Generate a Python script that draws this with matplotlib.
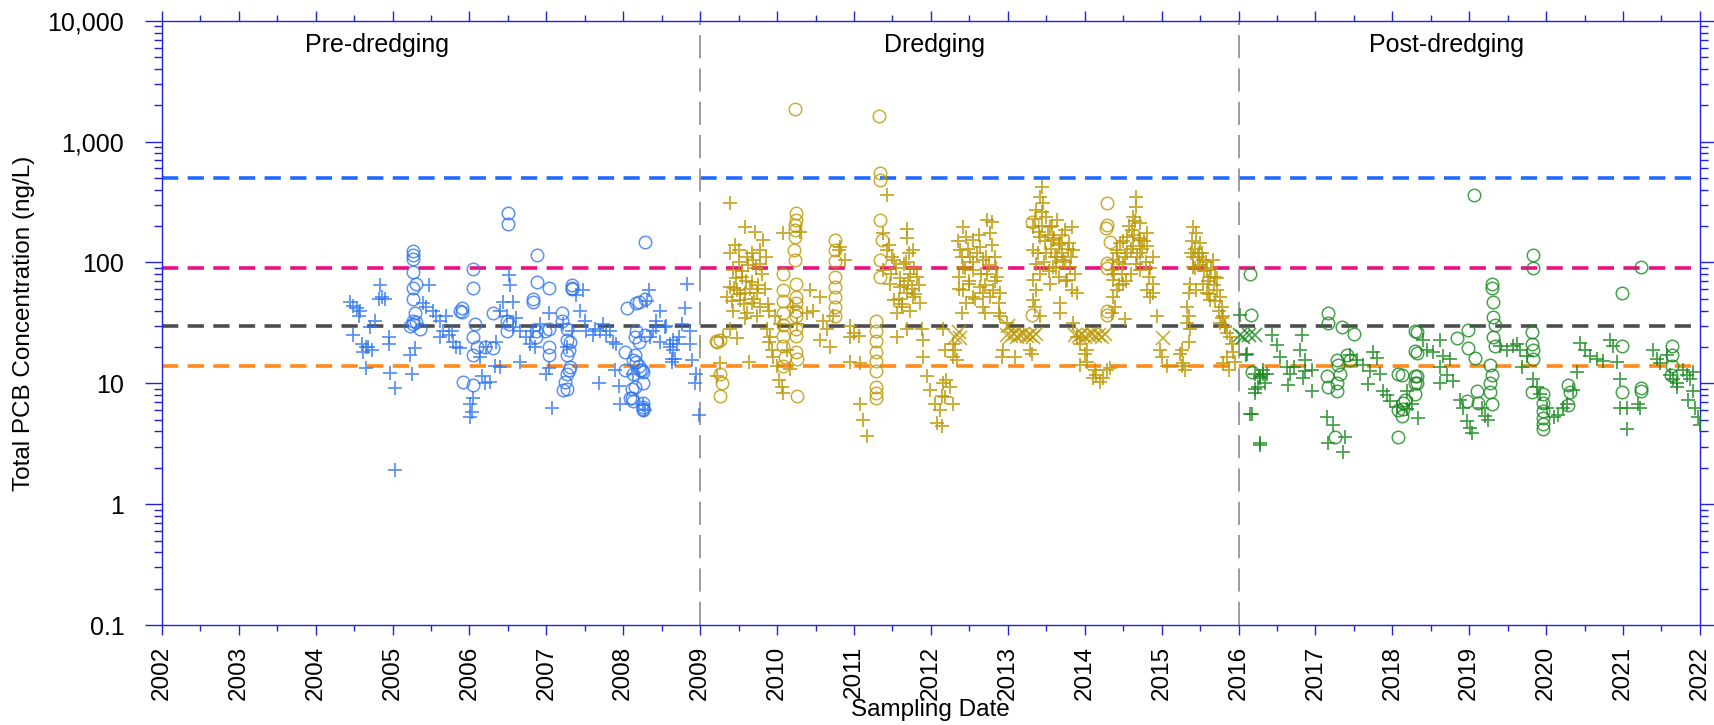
import numpy as np
import matplotlib.pyplot as plt
from matplotlib.ticker import FixedLocator, FixedFormatter, LogLocator, NullFormatter, MultipleLocator

plt.rcParams['font.family'] = ['Liberation Sans', 'DejaVu Sans']
font = 17.5

# ---------------- data (decimal year, ng/L) ----------------
# pre-dredging, '+' samples
pre_plus_yr = [2004.45, 2004.49, 2004.54, 2004.58, 2004.56, 2004.84, 2004.86, 2004.82, 2004.90,
               2004.77, 2004.71, 2004.49, 2004.60, 2004.66, 2004.73, 2004.95, 2004.95, 2004.66, 2004.97,
               2005.03, 2005.25, 2005.23, 2005.29, 2005.03, 2005.47, 2005.40, 2005.44, 2005.53, 2005.57,
               2005.62, 2005.66, 2005.73, 2005.79, 2005.83, 2005.88, 2005.62, 2005.70, 2005.77, 2006.01,
               2006.03, 2006.01, 2006.05, 2006.16, 2006.20, 2006.27, 2006.14, 2006.22, 2006.35, 2006.40,
               2006.33, 2006.51, 2006.53, 2006.44, 2006.57, 2006.40, 2006.49, 2006.61, 2006.66, 2006.74,
               2006.79, 2006.83, 2006.92, 2006.66, 2006.57, 2006.85, 2007.03, 2007.00, 2007.03, 2007.07,
               2007.39, 2007.48, 2007.44, 2007.50, 2007.52, 2007.33, 2007.27, 2007.22, 2007.61, 2007.70,
               2007.74, 2007.78, 2007.87, 2007.91, 2007.68, 2007.89, 2007.94, 2007.96, 2007.63, 2007.83,
               2008.33, 2008.31, 2008.26, 2008.28, 2008.39, 2008.48, 2008.43, 2008.54, 2008.61, 2008.65,
               2008.67, 2008.63, 2008.48, 2008.13, 2008.83, 2008.80, 2008.43, 2008.56, 2008.76, 2008.87,
               2008.65, 2008.72, 2008.61, 2008.70, 2008.87, 2008.89, 2008.95, 2008.93, 2008.98, 2008.35,
               2008.63, 2004.62, 2004.68]
pre_plus_val = [47, 44, 42, 40, 36, 65, 52, 50, 50,
                33, 29, 25, 21, 20, 19, 24, 21, 13.3, 12.1,
                9.1, 12, 17, 19.5, 1.92, 65, 46, 43, 40, 36,
                33, 27, 25, 22, 20, 19.5, 24, 36, 27, 6.8,
                5.8, 5.3, 7.5, 11.4, 10, 10.3, 16.6, 20, 22, 13.7,
                14, 79, 65, 47, 47, 40, 36, 35, 27, 24,
                21, 27, 31, 15, 29, 20, 38, 12, 13.3, 6.2,
                54, 59, 40, 33, 27, 27, 20, 31, 25, 27,
                31, 25, 22, 21, 10, 13, 9.5, 6.8, 28, 27,
                59, 48, 6.6, 6, 27, 40, 33, 29, 21, 19,
                16, 15, 22, 12, 67, 42, 29, 30, 31, 27,
                23, 24, 20, 21, 21, 15.6, 12, 10, 5.5, 24,
                16, 18, 20]

# pre-dredging, 'o' samples
pre_circ_yr = [2005.27, 2005.27, 2005.27, 2005.27, 2005.31, 2005.27, 2005.27, 2005.29, 2005.27, 2005.27,
               2005.31, 2005.36, 2005.23, 2006.05, 2006.05, 2005.90, 2005.88, 2005.90, 2005.92, 2006.05,
               2006.07, 2006.05, 2006.10, 2006.05, 2006.31, 2006.20, 2006.50, 2006.50, 2006.88, 2006.88,
               2007.03, 2006.83, 2006.83, 2006.31, 2006.49, 2006.49, 2006.51, 2006.87, 2006.87, 2007.03,
               2007.03, 2007.03, 2006.98, 2007.33, 2007.33, 2007.33, 2007.20, 2007.20, 2007.27, 2007.27,
               2007.31, 2007.29, 2007.27, 2007.31, 2007.29, 2007.27, 2007.24, 2007.22, 2007.27, 2008.05,
               2008.20, 2008.28, 2008.28, 2008.20, 2008.15, 2008.17, 2008.22, 2008.13, 2008.26, 2008.15,
               2008.11, 2008.13, 2008.26, 2008.26, 2008.02, 2008.28, 2008.17, 2008.15, 2008.17, 2008.02,
               2008.13, 2008.20, 2008.24, 2008.26, 2008.11, 2008.09, 2008.26, 2008.26]
pre_circ_val = [115, 125, 106, 84, 67, 61, 50, 38, 33, 31,
                32, 28, 30, 88, 61, 42, 40, 39, 10.3, 9.7,
                31, 24, 20, 17, 19.5, 20, 259, 208, 115, 69,
                61, 50, 47, 38, 33, 27, 31, 27, 24, 28,
                20, 17, 27, 65, 60, 62, 38, 33, 28, 23,
                22, 19, 17, 13.7, 13, 12, 10.3, 8.8, 9, 42,
                47, 50, 25, 22, 17, 15, 13, 12, 12.4, 9.3,
                7.6, 7.2, 6.9, 6.1, 18, 149, 46, 24, 27, 13,
                15.5, 14, 12.8, 10, 9, 7.5, 6.4, 6]

# dredging, '+' samples
dr_plus_yr = [2009.39, 2009.58, 2009.71, 2009.82, 2009.78, 2009.50, 2009.39, 2009.61, 2009.69, 2009.78,
              2009.43, 2009.54, 2009.67, 2009.39, 2009.48, 2009.58, 2009.74, 2009.35, 2009.52, 2009.67,
              2009.78, 2009.43, 2009.61, 2009.74, 2009.39, 2009.30, 2009.48, 2009.26, 2009.22, 2009.63,
              2009.87, 2009.91, 2009.89, 2009.93, 2009.95, 2010.00, 2010.02, 2010.06, 2010.08, 2010.04,
              2009.97, 2009.89, 2010.08, 2010.30, 2010.21, 2010.26, 2010.13, 2010.17, 2010.43, 2010.56,
              2010.47, 2010.60, 2010.65, 2010.39, 2010.56, 2010.69, 2010.80, 2010.88, 2010.82, 2010.73,
              2010.95, 2011.00, 2010.95, 2011.06, 2011.08, 2010.95, 2011.08, 2011.12, 2011.17, 2011.43,
              2011.69, 2011.38, 2011.69, 2011.77, 2011.43, 2011.52, 2011.38, 2011.65, 2011.73, 2011.82,
              2011.47, 2011.60, 2011.69, 2011.77, 2011.86, 2011.52, 2011.62, 2011.56, 2011.73, 2011.88,
              2011.90, 2011.90, 2011.95, 2011.99, 2012.05, 2012.12, 2012.08, 2012.16, 2012.14, 2011.56,
              2011.69, 2012.16, 2012.20, 2012.25, 2012.18, 2012.29, 2012.14, 2012.18, 2012.29, 2012.31,
              2012.34, 2012.29, 2012.42, 2012.73, 2012.79, 2012.46, 2012.55, 2012.64, 2012.77, 2012.38,
              2012.51, 2012.68, 2012.83, 2012.42, 2012.55, 2012.73, 2012.86, 2012.36, 2012.49, 2012.64,
              2012.81, 2012.90, 2012.42, 2012.55, 2012.77, 2012.88, 2012.46, 2012.68, 2012.40, 2012.68,
              2012.70, 2012.88, 2012.90, 2012.99, 2012.92, 2013.09, 2012.94, 2013.29, 2013.31, 2013.44,
              2013.42, 2013.46, 2013.37, 2013.50, 2013.33, 2013.55, 2013.64, 2013.74, 2013.83, 2013.42,
              2013.59, 2013.68, 2013.79, 2013.85, 2013.33, 2013.50, 2013.64, 2013.72, 2013.37, 2013.59,
              2013.81, 2013.42, 2013.66, 2013.77, 2013.83, 2013.90, 2013.33, 2013.55, 2013.37, 2013.33,
              2013.35, 2013.68, 2013.68, 2013.42, 2013.85, 2013.90, 2013.94, 2014.00, 2014.03, 2014.13,
              2014.15, 2014.20, 2014.11, 2014.24, 2014.29, 2014.33, 2013.94, 2014.03, 2014.67, 2014.67,
              2014.63, 2014.72, 2014.61, 2014.81, 2014.55, 2014.72, 2014.46, 2014.63, 2014.81, 2014.42,
              2014.55, 2014.72, 2014.89, 2014.37, 2014.50, 2014.67, 2014.35, 2014.48, 2014.72, 2014.83,
              2014.37, 2014.50, 2014.42, 2014.81, 2014.89, 2014.37, 2014.89, 2014.40, 2014.35, 2014.85,
              2014.94, 2014.52, 2014.98, 2015.00, 2015.07, 2015.28, 2015.24, 2015.26, 2015.30, 2015.41,
              2015.45, 2015.50, 2015.48, 2015.41, 2015.54, 2015.59, 2015.63, 2015.41, 2015.37, 2015.45,
              2015.54, 2015.59, 2015.67, 2015.69, 2015.72, 2015.76, 2015.63, 2015.78, 2015.80, 2015.76,
              2015.82, 2015.85, 2015.89, 2015.91, 2015.85, 2015.80, 2015.87, 2015.35, 2015.33, 2015.35,
              2015.33, 2015.37, 2015.35, 2015.26, 2015.93, 2015.95,
              2009.45, 2009.50, 2009.55, 2009.60, 2009.65, 2009.70, 2009.75, 2009.80, 2009.85, 2009.47,
              2009.52, 2009.57, 2009.62, 2009.68, 2009.73, 2009.41, 2009.44, 2009.58, 2009.84, 2009.88,
              2011.45, 2011.50, 2011.55, 2011.60, 2011.65, 2011.70, 2011.75, 2011.80, 2011.48, 2011.58,
              2011.63, 2011.68, 2011.72, 2011.78, 2011.84, 2012.35, 2012.40, 2012.45, 2012.50, 2012.55,
              2012.60, 2012.65, 2012.70, 2012.75, 2012.80, 2012.85, 2012.37, 2012.48, 2012.58, 2012.62,
              2012.72, 2012.83, 2013.36, 2013.40, 2013.45, 2013.48, 2013.52, 2013.56, 2013.60, 2013.62,
              2013.66, 2013.70, 2013.75, 2013.78, 2013.82, 2013.87, 2013.39, 2013.44, 2013.47, 2013.53,
              2013.58, 2013.63, 2013.71, 2013.76, 2014.38, 2014.42, 2014.45, 2014.50, 2014.53, 2014.57,
              2014.60, 2014.64, 2014.66, 2014.70, 2014.74, 2014.77, 2014.80, 2014.85, 2014.60, 2014.68,
              2014.44, 2014.54, 2015.40, 2015.43, 2015.47, 2015.50, 2015.52, 2015.55, 2015.58, 2015.60,
              2015.64, 2015.68, 2015.72, 2015.38, 2015.44, 2015.62, 2015.70, 2015.75, 2015.78, 2015.82]
dr_plus_val = [309, 198, 180, 154, 127, 127, 119, 112, 105, 98,
               87, 76, 69, 63, 59, 56, 56, 52, 49, 46,
               43, 40, 38, 36, 28, 24, 23.6, 14.6, 11.4, 15,
               28, 24, 22, 19, 16.6, 13.8, 10.7, 9.4, 8.3, 31,
               36, 40, 174, 180, 43, 31, 19, 13.2, 59, 52,
               40, 33, 28, 38, 23, 20, 127, 105, 135, 36,
               30, 26, 24, 24.5, 14.6, 15, 6.8, 5, 3.7, 361,
               191, 174, 158, 127, 127, 105, 87, 98, 81, 76,
               67, 63, 56, 52, 46, 49, 43, 38, 40, 28,
               22.8, 16.6, 11.4, 8.8, 6.8, 6, 4.7, 10, 7.9, 24,
               28, 28, 10.7, 9.4, 7.7, 6.8, 4.4, 19, 21, 19,
               15.6, 16.6, 198, 224, 215, 163, 154, 135, 174, 127,
               112, 105, 112, 92, 87, 81, 76, 76, 67, 63,
               59, 56, 59, 52, 52, 46, 46, 43, 38, 56,
               38, 38, 36, 31.5, 16.6, 16.6, 19, 19, 17.5, 424,
               350, 309, 272, 240, 198, 198, 224, 186, 198, 163,
               154, 146, 146, 127, 127, 119, 112, 105, 98, 92,
               92, 81, 76, 72, 59, 56, 72, 67, 59, 49,
               43, 46, 38, 36, 31.5, 24.4, 21, 17.5, 15, 12.8,
               11.8, 10.3, 11, 11, 12.8, 13.5, 14.3, 19, 350, 290,
               240, 211, 186, 174, 163, 154, 146, 138, 138, 127,
               119, 119, 112, 105, 98, 98, 87, 81, 87, 76,
               72, 67, 59, 59, 56, 52, 67, 43, 38, 52,
               36, 34, 19, 16.6, 13.8, 14.6, 17.5, 13.8, 12.8, 198,
               174, 146, 119, 112, 105, 87, 76, 92, 67, 59,
               67, 56, 105, 76, 59, 52, 49, 43, 36, 31.5,
               29.5, 26, 24.4, 21, 16.6, 14.6, 12.8, 56, 43, 36,
               31.5, 28, 22, 19, 18, 15,
               140, 100, 85, 70, 60, 50, 65, 80, 110, 75,
               55, 45, 95, 120, 90, 48, 62, 35, 60, 45,
               140, 110, 90, 75, 65, 70, 60, 55, 80, 50,
               45, 100, 120, 90, 65, 150, 110, 90, 70, 100,
               120, 80, 65, 95, 140, 90, 60, 130, 50, 170,
               110, 70, 230, 180, 200, 150, 170, 130, 160, 110,
               140, 120, 100, 130, 110, 80, 120, 260, 100, 85,
               200, 90, 170, 70, 80, 120, 100, 150, 110, 200,
               130, 170, 220, 160, 130, 150, 100, 90, 80, 110,
               65, 70, 150, 130, 110, 95, 120, 85, 100, 70,
               90, 65, 75, 120, 90, 55, 48, 40, 35, 30]

# dredging, 'x' samples
dr_x_yr = [2012.31, 2012.36, 2012.38, 2012.99, 2013.04, 2013.08, 2013.12, 2013.16, 2013.20, 2013.25,
           2013.29, 2013.33, 2013.37, 2013.00, 2013.87, 2013.92, 2013.96, 2014.01, 2014.05, 2014.09,
           2014.14, 2014.18, 2014.22, 2014.27, 2015.02]
dr_x_val = [24.4, 26.7, 23.6, 25, 24.5, 25.5, 24, 25, 25.5, 24.5,
            25, 24, 25.5, 30, 25, 24.5, 25.5, 24, 25, 25.5,
            24.5, 25, 24, 25.5, 23.6]

# dredging, 'o' samples
dr_circ_yr = [2009.22, 2009.26, 2009.20, 2009.26, 2009.28, 2009.26, 2010.08, 2010.08, 2010.08, 2010.08,
              2010.08, 2010.08, 2010.08, 2010.10, 2010.08, 2010.23, 2010.24, 2010.24, 2010.23, 2010.23,
              2010.23, 2010.22, 2010.23, 2010.24, 2010.24, 2010.25, 2010.25, 2010.24, 2010.24, 2010.25,
              2010.25, 2010.26, 2010.26, 2010.75, 2010.75, 2010.75, 2010.75, 2010.75, 2010.75, 2010.75,
              2010.75, 2011.34, 2011.34, 2011.34, 2011.36, 2011.34, 2011.34, 2011.29, 2011.29, 2011.29,
              2011.29, 2011.29, 2011.29, 2011.29, 2011.29, 2011.29, 2011.33, 2013.31, 2013.31, 2014.29,
              2014.29, 2014.28, 2014.33, 2014.29, 2014.29, 2014.29, 2014.29]
dr_circ_val = [22, 23, 22.5, 12, 10, 7.8, 81, 59, 48, 38,
               30.5, 24.5, 20.5, 16.6, 13.8, 1870, 255, 225, 205, 185,
               163, 127, 105, 67, 52, 46, 40, 36, 28, 24.5,
               18, 15.8, 7.8, 154, 127, 102, 76, 63, 52, 43,
               36, 547, 480, 225, 154, 105, 76, 33, 27, 22.5,
               18.2, 15.2, 12.6, 9.3, 8.3, 7.5, 1620, 218, 37, 309,
               204, 192, 149, 99, 90, 40, 37]

# post-dredging, '+' samples
po_plus_yr = [2016.02, 2016.10, 2016.17, 2016.28, 2016.28, 2016.22, 2016.32, 2016.43, 2016.50, 2016.82,
              2016.80, 2016.11, 2016.54, 2016.63, 2016.72, 2016.86, 2016.95, 2016.32, 2016.21, 2016.28,
              2016.34, 2016.26, 2016.21, 2016.37, 2016.67, 2016.65, 2016.84, 2016.95, 2016.86, 2016.15,
              2016.28, 2017.15, 2017.23, 2017.17, 2017.45, 2017.54, 2017.62, 2017.71, 2017.69, 2017.80,
              2017.84, 2017.88, 2017.93, 2017.97, 2018.06, 2018.19, 2018.25, 2018.19, 2018.40, 2018.45,
              2018.53, 2018.62, 2018.66, 2018.75, 2018.62, 2018.71, 2018.79, 2018.62, 2018.88, 2018.92,
              2018.97, 2019.01, 2019.03, 2019.16, 2019.20, 2019.25, 2019.40, 2019.49, 2019.57, 2019.62,
              2019.66, 2019.68, 2019.75, 2019.83, 2019.88, 2019.92, 2020.01, 2020.10, 2020.16, 2020.22,
              2020.27, 2020.35, 2020.40, 2020.44, 2020.50, 2020.57, 2020.66, 2020.74, 2020.83, 2020.87,
              2020.92, 2020.96, 2020.96, 2021.05, 2021.05, 2021.20, 2021.22, 2021.39, 2021.44, 2021.48,
              2021.57, 2021.61, 2021.65, 2021.70, 2021.78, 2021.83, 2021.87, 2021.91, 2021.85, 2021.94,
              2021.98, 2022.00, 2021.91, 2021.70, 2017.36, 2017.39, 2017.75, 2018.33]
po_plus_val = [37, 17, 5.6, 3.1, 11.4, 9, 12, 25, 20.7, 25,
               19, 17.4, 16.5, 13.7, 13.7, 15.6, 13, 13, 12, 11,
               10, 9.3, 8.3, 12, 12, 9.6, 11, 8.6, 12.6, 5.6,
               3.2, 5.3, 4.5, 3.2, 17, 15.6, 14.3, 12.6, 9.8, 16.2,
               12, 8.7, 8, 7.2, 6.4, 6.1, 6.7, 8.7, 22.8, 19,
               18, 22.8, 16.8, 15.8, 13.7, 11.8, 10.4, 10, 7.3, 6.2,
               4.9, 4.3, 3.9, 6.2, 5.4, 5, 20.4, 19, 20.4, 21,
               19, 13.7, 16.7, 10.8, 9.3, 8.2, 6.2, 5.3, 5.5, 6.3,
               6.7, 8.8, 12.4, 21.6, 19, 16.7, 16, 15.4, 22.8, 20.4,
               14.9, 10.8, 6.3, 6.2, 4.2, 6.7, 6.2, 19, 16, 14.6,
               17, 11.8, 10.8, 9.3, 13, 11.8, 10.8, 12.4, 7.3, 6.3,
               5.3, 4.5, 8.7, 10, 2.7, 3.6, 18, 5.2]

# post-dredging, 'o' samples
po_circ_yr = [2016.15, 2016.16, 2016.17, 2017.17, 2017.17, 2017.35, 2017.50, 2017.28, 2017.30, 2017.32,
              2017.41, 2017.45, 2017.15, 2017.17, 2017.28, 2017.28, 2017.25, 2018.08, 2018.14, 2018.08,
              2018.08, 2018.30, 2018.30, 2018.30, 2018.30, 2018.32, 2018.32, 2018.12, 2018.32, 2018.32,
              2018.30, 2018.16, 2018.14, 2018.12, 2018.84, 2018.99, 2018.99, 2019.07, 2019.10, 2019.12,
              2018.97, 2019.06, 2019.29, 2019.29, 2019.31, 2019.31, 2019.33, 2019.31, 2019.33, 2019.27,
              2019.29, 2019.27, 2019.27, 2019.29, 2019.83, 2019.83, 2019.81, 2019.82, 2019.83, 2019.83,
              2019.81, 2019.96, 2019.96, 2019.96, 2019.96, 2019.96, 2019.96, 2020.29, 2020.29, 2020.31,
              2020.99, 2020.99, 2020.99, 2021.23, 2021.24, 2021.24, 2021.64, 2021.64, 2021.64, 2021.63]
po_circ_val = [80, 37, 12.3, 38, 31.8, 29, 25.6, 15.6, 14.2, 12,
               17, 15.6, 11.6, 9.4, 10, 8.6, 3.6, 12, 6.9, 6,
               3.6, 27, 18.5, 11.5, 10, 26.7, 17.7, 11.8, 11.4, 10,
               8.1, 7.3, 6.1, 5.4, 23.6, 27.6, 19.5, 16.2, 8.7, 6.9,
               7.2, 365, 67, 61, 47, 35.5, 30.5, 24.3, 20.4, 14.3,
               11.8, 10, 8.5, 6.7, 115, 89.5, 26.7, 21, 19, 15.8,
               8.5, 8.1, 6.9, 5.9, 5.2, 4.6, 4.2, 9.6, 6.6, 8.5,
               56, 20.4, 8.5, 92.5, 9.2, 8.6, 20.4, 17, 14, 11.8]

# post-dredging, 'x' samples
po_x_yr = [2016.02, 2016.06, 2016.13, 2016.22]
po_x_val = [25, 24.4, 25, 25]

# screening levels (ng/L) and period boundaries
ref_levels = [500, 90, 30, 14]
ref_colors = ['#1f6bff', '#ec0f80', '#4d4d4d', '#ff8a1a']
period_bounds = [2009, 2016]
period_names = ['Pre-dredging', 'Dredging', 'Post-dredging']
period_label_x = [2004.8, 2012.05, 2018.7]
years = list(range(2002, 2023))

blue = '#2f74f0'
gold = '#bd9700'
green = '#15871a'
axis_blue = '#2222dd'

fig = plt.figure(figsize=(17.14, 7.25), dpi=100)
ax = fig.add_axes([0.0944, 0.1379, 0.8974, 0.8334])

for lev, col in zip(ref_levels, ref_colors):
    ax.axhline(lev, color=col, lw=2.6, dashes=(4.5, 2.6), zorder=1)
for b in period_bounds:
    ax.axvline(b, color='#8c8c8c', lw=1.2, dashes=(14, 6), zorder=1)

ms_plus = 10.5
ms_circ = 9
a = 0.78
ax.plot(pre_plus_yr, pre_plus_val, '+', color=blue, ms=ms_plus, mew=1.3, alpha=a, zorder=3)
ax.plot(pre_circ_yr, pre_circ_val, 'o', mfc='none', mec=blue, ms=ms_circ, mew=1.1, alpha=a, zorder=3)
ax.plot(dr_plus_yr, dr_plus_val, '+', color=gold, ms=ms_plus, mew=1.4, alpha=a, zorder=3)
ax.plot(dr_x_yr, dr_x_val, 'x', color=gold, ms=10, mew=1.2, alpha=a, zorder=3)
ax.plot(dr_circ_yr, dr_circ_val, 'o', mfc='none', mec=gold, ms=ms_circ, mew=1.1, alpha=a, zorder=3)
ax.plot(po_plus_yr, po_plus_val, '+', color=green, ms=ms_plus, mew=1.3, alpha=a, zorder=3)
ax.plot(po_x_yr, po_x_val, 'x', color=green, ms=10, mew=1.2, alpha=a, zorder=3)
ax.plot(po_circ_yr, po_circ_val, 'o', mfc='none', mec=green, ms=ms_circ, mew=1.1, alpha=a, zorder=3)

for name, xp in zip(period_names, period_label_x):
    ax.text(xp, 6300, name, ha='center', va='center', fontsize=18)

ax.set_yscale('log')
ax.set_xlim(2002, 2022)
ax.set_ylim(0.1, 10000)

ax.set_xticks(years)
ax.set_xticklabels([str(y) for y in years], rotation=90, fontsize=font)
ax.xaxis.set_minor_locator(MultipleLocator(0.5))

yt = [0.1, 1, 10, 100, 1000, 10000]
ax.yaxis.set_major_locator(FixedLocator(yt))
ax.yaxis.set_major_formatter(FixedFormatter(['0.1', '1', '10', '100', '1,000', '10,000']))
ax.yaxis.set_minor_locator(LogLocator(base=10, subs=np.arange(2, 10)))
ax.yaxis.set_minor_formatter(NullFormatter())
ax.tick_params(axis='y', labelsize=font + 0.5)

ax.tick_params(which='both', direction='out', color=axis_blue, top=True, right=True,
               labeltop=False, labelright=False)
ax.tick_params(axis='x', which='major', length=7, width=1, pad=8)
ax.tick_params(axis='x', which='minor', length=4, width=1)
ax.tick_params(axis='y', which='major', length=12, width=1, pad=15)
ax.tick_params(axis='y', which='minor', length=6, width=1)
for s in ax.spines.values():
    s.set_color(axis_blue)
    s.set_linewidth(1)

ax.set_xlabel('Sampling Date', fontsize=17.5, labelpad=-1)
ax.set_ylabel('Total PCB Concentration (ng/L)', fontsize=17.5, labelpad=9)

fig.savefig('out.png', dpi=100)
